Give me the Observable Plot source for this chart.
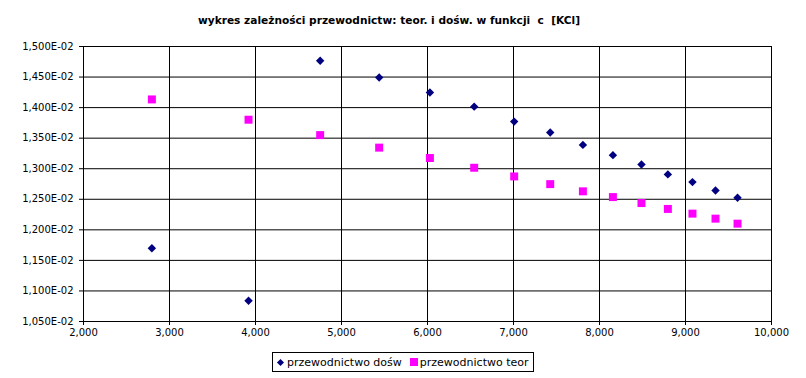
<!DOCTYPE html>
<html>
<head>
<meta charset="utf-8">
<script src="https://cdn.jsdelivr.net/npm/d3@7"></script>
<script src="https://cdn.jsdelivr.net/npm/@observablehq/plot@0.6"></script>
<style>
  html, body { margin: 0; padding: 0; background: #fff; }
  #wrap { position: relative; width: 806px; height: 378px; font-family: "DejaVu Sans", sans-serif; }
  #title { position: absolute; left: 0; top: 14px; width: 778px; text-align: center; font: bold 10.6px "DejaVu Sans", sans-serif; color: #000; white-space: pre; }
  #chart { position: absolute; left: 0; top: 40px; }
  #legend { position: absolute; top: 352px; left: 272px; height: 18px; border: 1px solid #000; display: flex; align-items: center; padding: 0 4px 0 3px; font: 11px "DejaVu Sans", sans-serif; color: #000; white-space: pre; background: #fff; }
  .dia { display: inline-block; width: 5px; height: 5px; background: #000080; transform: rotate(45deg); margin: 0 4px 0 2px; }
  .sq { display: inline-block; width: 8px; height: 8px; background: #ff00ff; margin: 0 2px 0 8px; }
</style>
</head>
<body>
<div id="wrap">
  <div id="title"></div>
  <div id="chart"></div>
  <div id="legend"></div>
</div>
<script>
const title = "wykres zależności przewodnictw: teor. i dośw. w funkcji  c  [KCl]";
const seriesNames = ["przewodnictwo dośw", "przewodnictwo teor"];
const conc = [2.795, 3.919, 4.752, 5.438, 6.028, 6.543, 7.008, 7.427, 7.807, 8.156, 8.488, 8.795, 9.081, 9.349, 9.605];
const przewDosw = [0.01170, 0.01084, 0.014766, 0.014494, 0.014248, 0.014016, 0.013771, 0.013592, 0.01339, 0.013222, 0.013069, 0.012907, 0.012781, 0.012645, 0.012526];
const przewTeor = [0.014134, 0.013802, 0.01355, 0.013345, 0.013175, 0.013016, 0.012874, 0.012748, 0.01263, 0.012536, 0.012438, 0.012342, 0.012265, 0.012183, 0.012101];
const xTicks = [2, 3, 4, 5, 6, 7, 8, 9, 10];
const yTicks = [0.0105, 0.011, 0.0115, 0.012, 0.0125, 0.013, 0.0135, 0.014, 0.0145, 0.015];

document.getElementById("title").textContent = title;
document.getElementById("legend").innerHTML =
  '<span class="dia"></span>' + seriesNames[0] + '<span class="sq"></span>' + seriesNames[1];

const dosw = conc.map((c, i) => ({c, v: przewDosw[i]}));
const teor = conc.map((c, i) => ({c, v: przewTeor[i]}));

const fmtY = d => (d * 100).toFixed(3).replace(".", ",") + "E-02";
const fmtX = d => d.toFixed(3).replace(".", ",");

const chart = Plot.plot({
  width: 806,
  height: 306,
  marginLeft: 83,
  marginRight: 35,
  marginTop: 6,
  marginBottom: 25,
  style: {fontFamily: "DejaVu Sans", fontSize: "10px", color: "#000", background: "#fff"},
  x: {domain: [2, 10]},
  y: {domain: [0.0105, 0.015]},
  marks: [
    Plot.gridX(xTicks, {stroke: "#000", strokeOpacity: 1}),
    Plot.gridY(yTicks, {stroke: "#000", strokeOpacity: 1}),
    Plot.axisX(xTicks, {tickSize: 4, tickPadding: 3, tickFormat: fmtX, label: null, stroke: "#000", fill: "#000"}),
    Plot.axisY(yTicks, {tickSize: 4, tickPadding: 6, tickFormat: fmtY, label: null, stroke: "#000", fill: "#000"}),
    Plot.dot(teor, {x: "c", y: "v", symbol: "square", r: 4.5, fill: "#ff00ff", stroke: "none"}),
    Plot.dot(dosw, {x: "c", y: "v", symbol: "diamond2", r: 3.8, fill: "#000080", stroke: "none"})
  ]
});
document.getElementById("chart").appendChild(chart);
</script>
</body>
</html>
